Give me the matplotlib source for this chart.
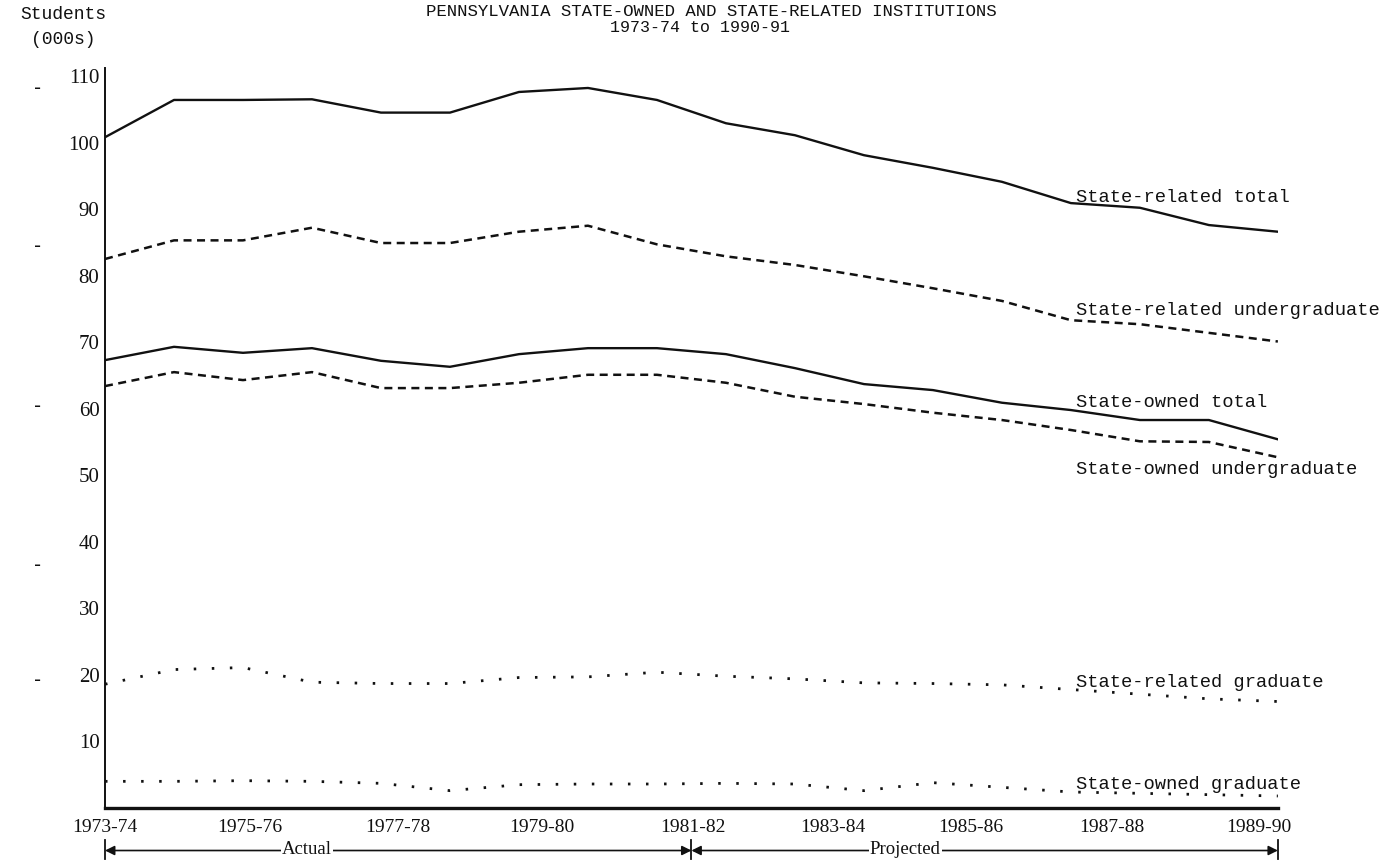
import numpy as np
import matplotlib
matplotlib.use("Agg")
import matplotlib.pyplot as plt
from matplotlib.transforms import blended_transform_factory

# academic years 1973-74 .. 1990-91 (actual through 1981-82, projected after)
YEARS = ["1973-74", "1974-75", "1975-76", "1976-77", "1977-78", "1978-79",
         "1979-80", "1980-81", "1981-82", "1982-83", "1983-84", "1984-85",
         "1985-86", "1986-87", "1987-88", "1988-89", "1989-90", "1990-91"]

# enrolment, thousands of students
rel_total = [100.8, 106.4, 106.4, 106.5, 104.5, 104.5, 107.6, 108.2, 106.4,
             102.9, 101.1, 98.1, 96.2, 94.1, 90.9, 90.2, 87.6, 86.6]
rel_under = [82.5, 85.3, 85.3, 87.2, 84.9, 84.9, 86.6, 87.5, 84.7,
             82.9, 81.6, 79.9, 78.1, 76.2, 73.3, 72.7, 71.4, 70.1]
own_total = [67.3, 69.3, 68.4, 69.1, 67.2, 66.3, 68.2, 69.1, 69.1,
             68.2, 66.1, 63.7, 62.8, 60.9, 59.8, 58.3, 58.3, 55.4]
own_under = [63.4, 65.5, 64.3, 65.5, 63.1, 63.1, 63.9, 65.1, 65.1,
             63.9, 61.8, 60.7, 59.4, 58.3, 56.8, 55.1, 55.0, 52.7]
rel_grad = [18.6, 20.8, 21.1, 18.9, 18.7, 18.7, 19.6, 19.7, 20.4,
            19.8, 19.4, 18.8, 18.7, 18.5, 17.8, 17.1, 16.4, 16.0]
own_grad = [4.0, 4.0, 4.1, 4.0, 3.7, 2.6, 3.5, 3.6, 3.6,
            3.7, 3.6, 2.6, 3.8, 3.1, 2.4, 2.2, 2.0, 1.8]

SERIES_LABELS = ["State-related total", "State-related undergraduate",
                 "State-owned total", "State-owned undergraduate",
                 "State-related graduate", "State-owned graduate"]

TICK_LABELS = ["1973-74", "1975-76", "1977-78", "1979-80", "1981-82",
               "1983-84", "1985-86", "1987-88", "1989-90"]
Y_TICKS = [10, 20, 30, 40, 50, 60, 70, 80, 90, 100, 110]

MONO = ["Liberation Mono", "DejaVu Sans Mono"]
SERIF = ["Liberation Serif", "DejaVu Serif"]
INK = "#111111"

fig = plt.figure(figsize=(13.89, 8.61), dpi=100)
ax = fig.add_axes([0.0756, 0.0616, 0.8444, 0.8594])
x = np.arange(len(YEARS))

solid = dict(color=INK, lw=1.7, solid_joinstyle="round")
dashed = dict(color=INK, lw=1.8, linestyle=(0, (3.2, 2.2)))
dotted = dict(color=INK, lw=2.0, linestyle=(0, (0.9, 5.6)))

ax.plot(x, rel_total, **solid)
ax.plot(x, rel_under, **dashed)
ax.plot(x, own_total, **solid)
ax.plot(x, own_under, **dashed)
ax.plot(x, rel_grad, **dotted)
ax.plot(x, own_grad, **dotted)

# series labels typed at the right-hand end
label_y = [91.7, 74.7, 61.0, 50.8, 18.9, 3.5]
for txt, yy in zip(SERIES_LABELS, label_y):
    ax.text(14.07, yy, txt, ha="left", va="center", fontsize=13.5,
            family=MONO, color=INK)

ax.set_xlim(0, 17)
ax.set_ylim(0, 111.2)
for s in ("top", "right"):
    ax.spines[s].set_visible(False)
ax.spines["left"].set_linewidth(1.4)
ax.spines["bottom"].set_linewidth(2.4)
ax.spines["left"].set_color(INK)
ax.spines["bottom"].set_color(INK)

ax.set_yticks(Y_TICKS)
ax.set_yticklabels([str(v) for v in Y_TICKS], family=SERIF, fontsize=15)
ax.tick_params(axis="y", length=0, pad=4, colors=INK)
# typed year labels sit a little to the right of the plotted points
ax.set_xticks([0, 2.1, 4.25, 6.33, 8.52, 10.55, 12.55, 14.6, 16.72])
ax.set_xticklabels(TICK_LABELS, family=SERIF, fontsize=14)
ax.tick_params(axis="x", length=0, pad=8, colors=INK)

# Actual / Projected span arrows under the axis
tr = blended_transform_factory(ax.transData, ax.transAxes)
yb = -0.0575
split = 8.5
for x0, x1 in [(0, split), (split, 17)]:
    ax.annotate("", xy=(x0, yb), xytext=(x1, yb), xycoords=tr, textcoords=tr,
                arrowprops=dict(arrowstyle="<|-|>", color=INK, lw=1.2,
                                mutation_scale=14, shrinkA=0, shrinkB=0),
                annotation_clip=False)
for xv in (0, split, 17):
    ax.plot([xv, xv], [yb - 0.012, yb + 0.014], transform=tr, color=INK,
            lw=1.3, clip_on=False)
for txt, xc in [("Actual", 2.93), ("Projected", 11.6)]:
    ax.text(xc, yb + 0.002, txt, transform=tr, ha="center", va="center",
            fontsize=13.5, family=SERIF, color=INK,
            bbox=dict(facecolor="white", edgecolor="none", pad=1.0))

# headings
fig.text(0.0455, 0.983, "Students", ha="center", va="center", fontsize=13,
         family=MONO, color=INK)
fig.text(0.0455, 0.954, "(000s)", ha="center", va="center", fontsize=13,
         family=MONO, color=INK)
fig.text(0.512, 0.987, "PENNSYLVANIA STATE-OWNED AND STATE-RELATED INSTITUTIONS",
         ha="center", va="center", fontsize=12.5, family=MONO, color=INK)
fig.text(0.504, 0.968, "1973-74 to 1990-91", ha="center", va="center",
         fontsize=12, family=MONO, color=INK)

# margin marks from the original sheet
for yy in (0.897, 0.714, 0.528, 0.343, 0.210):
    fig.text(0.027, yy, "-", ha="center", va="center", fontsize=14,
             color=INK)

fig.savefig("out.png", dpi=100, facecolor="white")
